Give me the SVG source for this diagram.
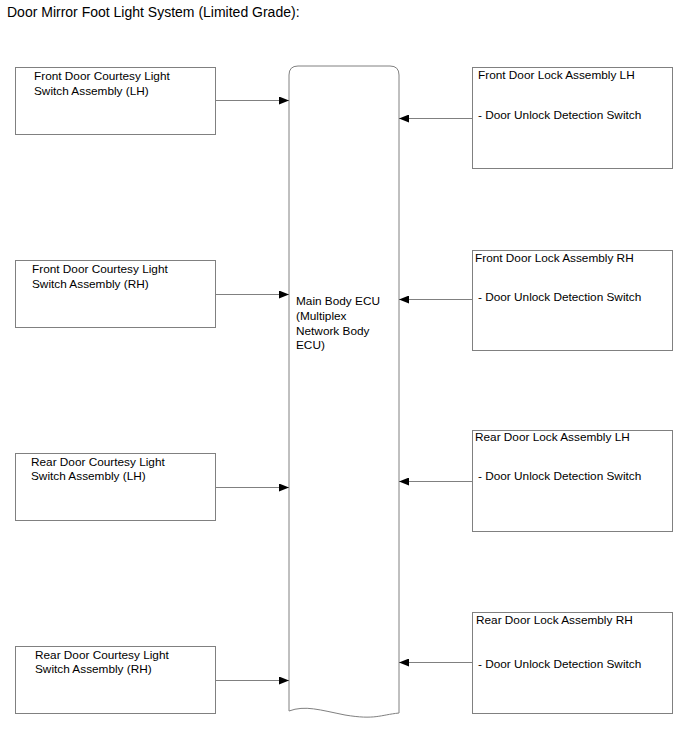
<svg xmlns="http://www.w3.org/2000/svg" width="688" height="755" viewBox="0 0 688 755">
<defs>
<marker id="ah" viewBox="0 0 10 8" refX="10" refY="4" markerWidth="10" markerHeight="8" markerUnits="userSpaceOnUse" orient="auto">
<path d="M0,0 L10,4 L0,8 z" fill="#000"/>
</marker>
<style>
.box{fill:#fff;stroke:#808080;stroke-width:1}
.t{font-family:"Liberation Sans",Arial,sans-serif;font-size:11.8px;fill:#000}
.title{font-family:"Liberation Sans",Arial,sans-serif;font-size:14px;fill:#000}
.c{stroke:#808080;stroke-width:1;fill:none;marker-end:url(#ah)}
</style>
</defs>
<rect width="688" height="755" fill="#fff"/>
<text class="title" x="7" y="17">Door Mirror Foot Light System (Limited Grade):</text>

<g id="ecu">
<path class="box" d="M289,711 L289,75 Q289,66 298,66 L390,66 Q399,66 399,75 L399,713 C380,715 375,720 345,715 C320,710 305,705 289,711 Z"/>
<text class="t" x="296" y="305">Main Body ECU</text>
<text class="t" x="296" y="320">(Multiplex</text>
<text class="t" x="296" y="335">Network Body</text>
<text class="t" x="296" y="349">ECU)</text>
</g>

<g id="fl">
<rect class="box" x="15.5" y="67.5" width="200" height="67"/>
<text class="t" x="34" y="80">Front Door Courtesy Light</text>
<text class="t" x="34" y="95">Switch Assembly (LH)</text>
</g>
<g id="fr">
<rect class="box" x="15.5" y="260.5" width="200" height="67"/>
<text class="t" x="32" y="273">Front Door Courtesy Light</text>
<text class="t" x="32" y="288">Switch Assembly (RH)</text>
</g>
<g id="rl">
<rect class="box" x="15.5" y="453.5" width="200" height="67"/>
<text class="t" x="31" y="466">Rear Door Courtesy Light</text>
<text class="t" x="31" y="480">Switch Assembly (LH)</text>
</g>
<g id="rr">
<rect class="box" x="15.5" y="646.5" width="200" height="67"/>
<text class="t" x="35" y="659">Rear Door Courtesy Light</text>
<text class="t" x="35" y="673">Switch Assembly (RH)</text>
</g>

<g id="lfl">
<rect class="box" x="472.5" y="67.5" width="200" height="101"/>
<text class="t" x="478" y="79">Front Door Lock Assembly LH</text>
<text class="t" x="478" y="119">- Door Unlock Detection Switch</text>
</g>
<g id="lfr">
<rect class="box" x="472.5" y="250.5" width="200" height="100"/>
<text class="t" x="475" y="262">Front Door Lock Assembly RH</text>
<text class="t" x="478" y="301">- Door Unlock Detection Switch</text>
</g>
<g id="lrl">
<rect class="box" x="472.5" y="430.5" width="200" height="101"/>
<text class="t" x="475" y="441">Rear Door Lock Assembly LH</text>
<text class="t" x="478" y="480">- Door Unlock Detection Switch</text>
</g>
<g id="lrr">
<rect class="box" x="472.5" y="612.5" width="200" height="101"/>
<text class="t" x="476" y="624">Rear Door Lock Assembly RH</text>
<text class="t" x="478" y="668">- Door Unlock Detection Switch</text>
</g>

<g id="connectors">
<line class="c" x1="216" y1="100.5" x2="289" y2="100.5"/>
<line class="c" x1="216" y1="294.5" x2="289" y2="294.5"/>
<line class="c" x1="216" y1="487.5" x2="289" y2="487.5"/>
<line class="c" x1="216" y1="680.5" x2="289" y2="680.5"/>
<line class="c" x1="472" y1="118.5" x2="399" y2="118.5"/>
<line class="c" x1="472" y1="299.5" x2="399" y2="299.5"/>
<line class="c" x1="472" y1="481.5" x2="399" y2="481.5"/>
<line class="c" x1="472" y1="662.5" x2="399" y2="662.5"/>
</g>
</svg>
